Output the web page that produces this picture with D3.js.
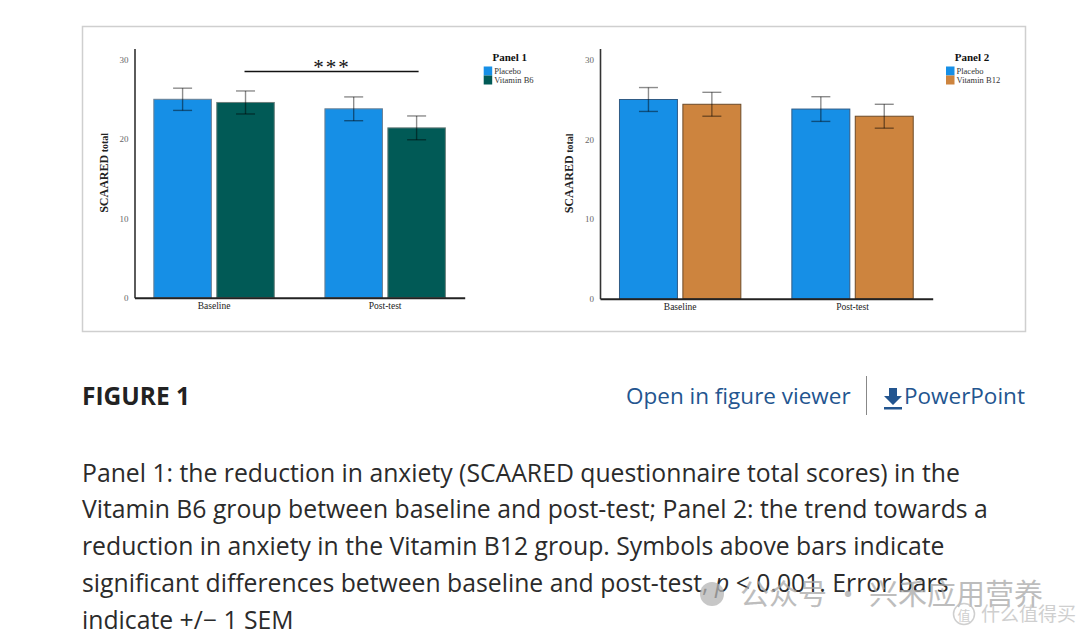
<!DOCTYPE html>
<html>
<head>
<meta charset="utf-8">
<script src="https://cdn.jsdelivr.net/npm/d3@7"></script>
<style>
  html, body { margin: 0; padding: 0; background: #fff; }
  svg { display: block; }
  .tick text { font-family: "Liberation Serif", serif; font-size: 9px; fill: #666; }
  .serif { font-family: "Liberation Serif", serif; }
  .sans { font-family: "Open Sans", sans-serif; }
</style>
</head>
<body>
<div id="chart"></div>
<script>
// Datos
const groups = ["Baseline", "Post-test"];
const yTicks = [0, 10, 20, 30];

const p1Series = ["Placebo", "Vitamin B6"];
const p1Placebo = [25.0, 23.8];
const p1PlaceboSem = [1.4, 1.5];
const p1B6 = [24.6, 21.4];
const p1B6Sem = [1.45, 1.5];

const p2Series = ["Placebo", "Vitamin B12"];
const p2Placebo = [25.0, 23.8];
const p2PlaceboSem = [1.5, 1.55];
const p2B12 = [24.4, 22.9];
const p2B12Sem = [1.5, 1.5];

const captionLines = [
  "Panel 1: the reduction in anxiety (SCAARED questionnaire total scores) in the",
  "Vitamin B6 group between baseline and post-test; Panel 2: the trend towards a",
  "reduction in anxiety in the Vitamin B12 group. Symbols above bars indicate",
  null,
  "indicate +/\u2212 1 SEM"
];

const svg = d3.select("#chart").append("svg").attr("width", 1080).attr("height", 636);
svg.append("rect").attr("width", 1080).attr("height", 636).attr("fill", "#fff");

// marco de la figura
svg.append("rect")
  .attr("x", 82.5).attr("y", 26.5).attr("width", 943).attr("height", 305)
  .attr("fill", "none").attr("stroke", "#cfcfcf").attr("stroke-width", 1.5);

function drawPanel(cfg) {
  const g = svg.append("g");
  const x = d3.scaleBand().domain(groups).range([cfg.x0, cfg.x1])
    .paddingInner(0.296).paddingOuter(0.113);
  const xs = d3.scaleBand().domain(cfg.series).range([0, x.bandwidth()])
    .paddingInner(0.086).paddingOuter(0);
  const y = d3.scaleLinear().domain([0, 31.4]).range([cfg.y0, 48.5]);
  const color = d3.scaleOrdinal().domain(cfg.series).range(cfg.colors);

  const rows = [];
  cfg.series.forEach((s, i) => {
    groups.forEach((grp, j) => {
      rows.push({ serie: s, group: grp, mean: cfg.means[i][j], sem: cfg.sems[i][j] });
    });
  });

  // barras
  g.selectAll(".bar").data(rows).enter().append("rect")
    .attr("class", "bar")
    .attr("x", (d) => x(d.group) + xs(d.serie))
    .attr("width", xs.bandwidth())
    .attr("y", (d) => y(d.mean))
    .attr("height", (d) => y(0) - y(d.mean))
    .attr("fill", (d) => color(d.serie))
    .attr("stroke", (d) => cfg.strokes[cfg.series.indexOf(d.serie)])
    .attr("stroke-width", 1);

  // barras de error
  const eb = g.selectAll(".err").data(rows).enter().append("g")
    .attr("class", "err")
    .attr("stroke", "#000").attr("stroke-opacity", 0.45).attr("stroke-width", 1.4);
  const cx = (d) => x(d.group) + xs(d.serie) + xs.bandwidth() / 2;
  eb.append("line")
    .attr("x1", cx).attr("x2", cx)
    .attr("y1", (d) => y(d.mean + d.sem)).attr("y2", (d) => y(d.mean - d.sem));
  eb.append("line")
    .attr("x1", (d) => cx(d) - 9.5).attr("x2", (d) => cx(d) + 9.5)
    .attr("y1", (d) => y(d.mean + d.sem)).attr("y2", (d) => y(d.mean + d.sem));
  eb.append("line")
    .attr("x1", (d) => cx(d) - 9.5).attr("x2", (d) => cx(d) + 9.5)
    .attr("y1", (d) => y(d.mean - d.sem)).attr("y2", (d) => y(d.mean - d.sem));

  // ejes
  const yAxis = g.append("g").attr("transform", `translate(${cfg.x0},0)`)
    .call(d3.axisLeft(y).tickValues(yTicks).tickSize(0).tickPadding(6));
  yAxis.select(".domain").attr("stroke", "#333").attr("stroke-width", 1.6);

  const xAxis = g.append("g").attr("transform", `translate(0,${cfg.y0})`)
    .call(d3.axisBottom(x).tickSize(0).tickPadding(5));
  xAxis.select(".domain").attr("stroke", "#222").attr("stroke-width", 2);
  xAxis.selectAll(".tick text").attr("fill", "#222").style("font-size", "9.5px").style("fill", "#222");

  // etiqueta eje Y
  const yl = g.append("text").attr("class", "serif")
    .attr("transform", `translate(${cfg.x0 - 27},${(cfg.y0 + 48) / 2}) rotate(-90)`)
    .attr("text-anchor", "middle").attr("fill", "#222");
  yl.append("tspan").attr("font-weight", "bold").attr("font-size", 12).text("SCAARED");
  yl.append("tspan").attr("font-weight", "bold").attr("font-size", 10).text(" total");

  // leyenda
  const lg = g.append("g").attr("transform", `translate(${cfg.legendX},0)`);
  lg.append("text").attr("class", "serif")
    .attr("x", 26).attr("y", 60.5).attr("text-anchor", "middle")
    .attr("font-weight", "bold").attr("font-size", 11).attr("fill", "#111")
    .text(cfg.title);
  const li = lg.selectAll(".li").data(cfg.series).enter().append("g")
    .attr("transform", (d, i) => `translate(0,${66.5 + i * 9})`);
  li.append("rect").attr("width", 8.5).attr("height", 9)
    .attr("fill", (d) => color(d));
  li.append("text").attr("class", "serif")
    .attr("x", 10.5).attr("y", 7).attr("font-size", 8.5).attr("fill", "#333")
    .text((d) => d);

  return { g, x, xs, y };
}

const p1 = drawPanel({
  x0: 134.5, x1: 464.7, y0: 297.7,
  series: p1Series, means: [p1Placebo, p1B6], sems: [p1PlaceboSem, p1B6Sem],
  colors: ["#168fe6", "#015a56"], strokes: ["#6b7f92", "#6a7f7c"],
  legendX: 483.7, title: "Panel 1"
});

// marca de significancia (Vitamin B6 baseline vs post-test)
const sx1 = p1.x("Baseline") + p1.xs("Vitamin B6") + p1.xs.bandwidth() / 2;
const sx2 = p1.x("Post-test") + p1.xs("Vitamin B6") + p1.xs.bandwidth() / 2;
const sy = p1.y(28.5);
p1.g.append("line").attr("x1", sx1 - 1).attr("x2", sx2 + 2)
  .attr("y1", sy).attr("y2", sy).attr("stroke", "#111").attr("stroke-width", 1.5);
p1.g.append("text").attr("class", "serif")
  .attr("x", (sx1 + sx2) / 2 + 1).attr("y", sy + 2).attr("text-anchor", "middle")
  .attr("font-size", 21).attr("fill", "#111")
  .attr("letter-spacing", 2).text("***");

drawPanel({
  x0: 600, x1: 932.7, y0: 298.7,
  series: p2Series, means: [p2Placebo, p2B12], sems: [p2PlaceboSem, p2B12Sem],
  colors: ["#168fe6", "#cd843e"], strokes: ["#2f5b85", "#6b4a28"],
  legendX: 946, title: "Panel 2"
});

// texto inferior
svg.append("text").attr("class", "sans")
  .attr("x", 82).attr("y", 405).attr("font-size", 24.5).attr("font-weight", "bold")
  .attr("fill", "#222").text("FIGURE 1");
svg.append("text").attr("class", "sans")
  .attr("x", 626).attr("y", 404).attr("font-size", 22.5).attr("fill", "#23558f")
  .text("Open in figure viewer");
svg.append("line").attr("x1", 866.5).attr("x2", 866.5).attr("y1", 376).attr("y2", 415)
  .attr("stroke", "#888").attr("stroke-width", 1);
// icono descarga
svg.append("path")
  .attr("d", "M889,388 h8 v8 h5 l-9,9 l-9,-9 h5 z M884,407 h18 v2.5 h-18 z")
  .attr("fill", "#23558f");
svg.append("text").attr("class", "sans")
  .attr("x", 904).attr("y", 404).attr("font-size", 22.5).attr("fill", "#23558f")
  .text("PowerPoint");

const capY = [481.7, 518.4, 555.1, 591.8, 628.5];
captionLines.forEach((t, i) => {
  const tx = svg.append("text").attr("class", "sans")
    .attr("x", 82).attr("y", capY[i]).attr("font-size", 24.75).attr("fill", "#2b2b2b");
  if (t !== null) {
    tx.text(t);
  } else {
    tx.append("tspan").text("significant differences between baseline and post-test, ");
    tx.append("tspan").attr("font-style", "italic").text("p");
    tx.append("tspan").text(" < 0.001. Error bars");
  }
});

// marca de agua
const wm = svg.append("g").attr("opacity", 0.75);
wm.append("circle").attr("cx", 712).attr("cy", 594).attr("r", 12).attr("fill", "#b5b5b5");
wm.append("text").attr("x", 740).attr("y", 605)
  .attr("font-family", "Noto Sans CJK SC").attr("font-size", 29).attr("fill", "#a8a8a8")
  .text("公众号 · 兴禾应用营养");
const wm2 = svg.append("g").attr("opacity", 0.8);
wm2.append("circle").attr("cx", 964).attr("cy", 614).attr("r", 10.5)
  .attr("fill", "none").attr("stroke", "#c4c4c4").attr("stroke-width", 1.5);
wm2.append("text").attr("x", 964).attr("y", 620).attr("text-anchor", "middle")
  .attr("font-family", "Noto Sans CJK SC").attr("font-size", 13).attr("fill", "#c4c4c4")
  .text("值");
wm2.append("text").attr("x", 981).attr("y", 621)
  .attr("font-family", "Noto Sans CJK SC").attr("font-size", 19).attr("fill", "#c4c4c4")
  .text("什么值得买");
</script>
</body>
</html>
